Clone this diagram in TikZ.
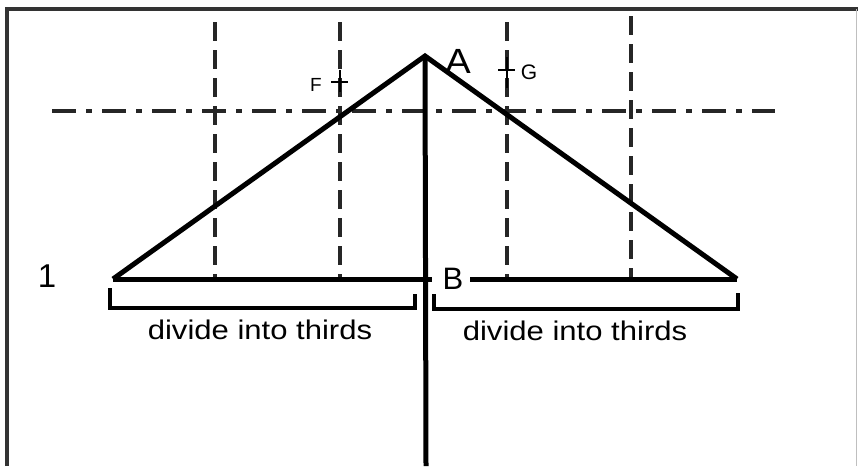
\documentclass[tikz,border=0pt]{standalone}
\usepackage{fontspec}
\setmainfont{Liberation Sans}
\begin{document}
\begin{tikzpicture}[x=1pt,y=-1pt,
  heavy/.style={line width=5pt,black},
  guide/.style={line width=3.4pt,black!85,dash pattern=on 19pt off 9pt},
  guidedot/.style={line width=3.4pt,black!85,dash pattern=on 24pt off 10pt on 6pt off 10pt},
  bracketln/.style={line width=4pt,black},
  lbl/.style={inner sep=0pt,anchor=center},
  crossln/.style={line width=2.6pt,black}]
\useasboundingbox (0,0) rectangle (858,466);
% frame
\draw[line width=3.5pt,black!80] (7,466) -- (7,9) -- (858,9);
\draw[line width=1pt,black!25] (856,9) -- (856,466);
% key points
\coordinate (A) at (425,56);
\coordinate (L) at (113,279);
\coordinate (R) at (737,279);
\coordinate (Bl) at (432,279);
\coordinate (Br) at (470,279);
\coordinate (Bot) at (426,466);
% guide lines
\draw[guidedot] (52,111) -- (775,111);
\draw[guide] (215,22) -- (215,279);
\draw[guide] (340,22) -- (340,279);
\draw[guide] (507,22) -- (507,279);
\draw[guide] (631,16) -- (631,279);
% triangle
\draw[heavy,line join=miter] (L) -- (A) -- (R);
\draw[heavy] (L) -- (Bl);
\draw[heavy] (Br) -- (R);
\draw[heavy] (A) -- (Bot);
% brackets
\draw[bracketln] (110,288) -- (110,308) -- (415,308) -- (415,294);
\draw[bracketln] (434,294) -- (434,309) -- (738,309) -- (738,293);
% F and G crosses
\draw[crossln] (331,82) -- (348,82);
\draw[crossln] (340,70) -- (340,92);
\draw[crossln] (498,70) -- (515,70);
\draw[crossln] (507,57) -- (507,88);
% labels
\node[lbl,font=\fontsize{35}{35}\selectfont,xscale=1.1] (lA) at (458,61) {A};
\node[lbl,font=\fontsize{31}{31}\selectfont] (lB) at (453,279) {B};
\node[lbl,font=\fontsize{33}{33}\selectfont] (l1) at (47,276) {1};
\node[lbl,font=\fontsize{19}{19}\selectfont] (lF) at (316,85) {F};
\node[lbl,font=\fontsize{21}{21}\selectfont] (lG) at (529,72) {G};
\node[lbl,font=\fontsize{27}{27}\selectfont,xscale=1.15,anchor=base] (t1) at (260,339) {divide into thirds};
\node[lbl,font=\fontsize{27}{27}\selectfont,xscale=1.15,anchor=base] (t2) at (575,340) {divide into thirds};
\end{tikzpicture}
\end{document}
